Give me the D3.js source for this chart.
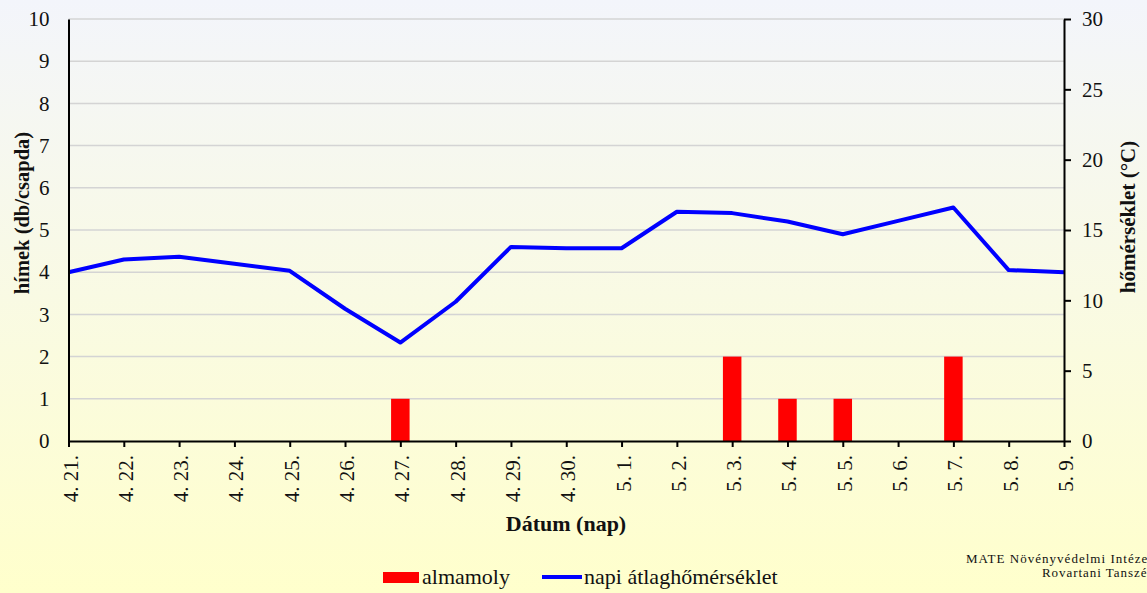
<!DOCTYPE html>
<html>
<head>
<meta charset="utf-8">
<script src="https://cdn.jsdelivr.net/npm/d3@7"></script>
<style>
  body { margin: 0; padding: 0; overflow: hidden; }
  svg, svg text { font-family: "Liberation Serif", "Times New Roman", Times, "DejaVu Serif", serif; }
</style>
</head>
<body>
<div id="chart"></div>
<script>
// data
var dates = ["4. 21.", "4. 22.", "4. 23.", "4. 24.", "4. 25.", "4. 26.", "4. 27.", "4. 28.", "4. 29.", "4. 30.",
  "5. 1.", "5. 2.", "5. 3.", "5. 4.", "5. 5.", "5. 6.", "5. 7.", "5. 8.", "5. 9."];
var almamoly = [0, 0, 0, 0, 0, 0, 1, 0, 0, 0, 0, 0, 2, 1, 1, 0, 2, 0, 0];
var temperature = [12.0, 12.9, 13.1, 12.6, 12.1, 9.4, 7.0, 9.9, 13.8, 13.7, 13.7, 16.3, 16.2, 15.6, 14.7, 15.65, 16.6, 12.15, 12.0];
var leftTicks = [0, 1, 2, 3, 4, 5, 6, 7, 8, 9, 10];
var rightTicks = [0, 5, 10, 15, 20, 25, 30];

const svgwidth = 1147;
const svgheight = 593;
const serif = "'Liberation Serif', 'Times New Roman', Times, 'DejaVu Serif', serif";

// plot area edges
var plot = {left: 68.5, right: 1064, top: 19, bottom: 441};

var svg = d3.select("#chart")
  .append("svg")
  .attr("width", svgwidth)
  .attr("height", svgheight)
  .attr("font-family", serif);

// background gradient, bluish white to pale yellow
var grad = svg.append("defs").append("linearGradient")
  .attr("id", "bg")
  .attr("x1", 0).attr("y1", 0).attr("x2", 0).attr("y2", 1);
grad.append("stop").attr("offset", "0%").attr("stop-color", "#f3f5fb");
grad.append("stop").attr("offset", "100%").attr("stop-color", "#ffffcc");

svg.append("rect")
  .attr("width", svgwidth)
  .attr("height", svgheight)
  .attr("fill", "url(#bg)");

// scales
var x = d3.scalePoint()
  .domain(dates)
  .range([plot.left, plot.right]);

var yLeft = d3.scaleLinear()
  .domain([0, 10])
  .range([plot.bottom, plot.top]);

var yRight = d3.scaleLinear()
  .domain([0, 30])
  .range([plot.bottom, plot.top]);

// gridlines
svg.append("g")
  .selectAll("line")
  .data(leftTicks.slice(1))
  .enter()
  .append("line")
  .attr("x1", plot.left)
  .attr("x2", plot.right)
  .attr("y1", d => yLeft(d))
  .attr("y2", d => yLeft(d))
  .attr("stroke", "#d4d4d4")
  .attr("stroke-width", 1.5);

// bars
var barWidth = 18.5;
svg.append("g")
  .selectAll("rect")
  .data(almamoly.map((v, i) => ({date: dates[i], value: v})).filter(d => d.value > 0))
  .enter()
  .append("rect")
  .attr("x", d => x(d.date) - barWidth / 2)
  .attr("y", d => yLeft(d.value))
  .attr("width", barWidth)
  .attr("height", d => yLeft(0) - yLeft(d.value))
  .attr("fill", "#ff0000");

// temperature line
var line = d3.line()
  .x((d, i) => x(dates[i]))
  .y(d => yRight(d));

svg.append("path")
  .datum(temperature)
  .attr("d", line)
  .attr("fill", "none")
  .attr("stroke", "#0000ff")
  .attr("stroke-width", 4)
  .attr("stroke-linejoin", "round");

// left axis
var leftAxis = svg.append("g")
  .attr("transform", `translate(${plot.left}, 0)`)
  .call(d3.axisLeft(yLeft).tickValues(leftTicks).tickSize(0).tickPadding(19));
leftAxis.attr("font-family", serif).attr("font-size", 21);
leftAxis.select(".domain").attr("stroke", "#000").attr("stroke-width", 2);
leftAxis.selectAll("text").attr("fill", "#111");

// right axis
var rightAxis = svg.append("g")
  .attr("transform", `translate(${plot.right}, 0)`)
  .call(d3.axisRight(yRight).tickValues(rightTicks).tickSize(7).tickSizeOuter(0).tickPadding(11));
rightAxis.attr("font-family", serif).attr("font-size", 21);
rightAxis.select(".domain").attr("stroke", "#000").attr("stroke-width", 2);
rightAxis.selectAll("line").attr("stroke", "#000").attr("stroke-width", 2);
rightAxis.selectAll("text").attr("fill", "#111");

// bottom axis
var bottomAxis = svg.append("g")
  .attr("transform", `translate(0, ${plot.bottom})`)
  .call(d3.axisBottom(x).tickSize(6).tickSizeOuter(0));
bottomAxis.attr("font-family", serif).attr("font-size", 21);
bottomAxis.select(".domain").attr("stroke", "#000").attr("stroke-width", 2);
bottomAxis.selectAll("line").attr("stroke", "#000").attr("stroke-width", 2);
bottomAxis.selectAll("text")
  .attr("fill", "#111")
  .attr("text-anchor", "end")
  .attr("dy", null)
  .attr("y", null)
  .attr("transform", "translate(8.5, 14) rotate(-90)");

// axis titles
svg.append("text")
  .attr("transform", "translate(29, 213) rotate(-90)")
  .attr("text-anchor", "middle")
  .attr("font-size", 20.5)
  .attr("font-weight", "bold")
  .attr("fill", "#111")
  .text("hímek (db/csapda)");

svg.append("text")
  .attr("transform", "translate(1135, 217) rotate(-90)")
  .attr("text-anchor", "middle")
  .attr("font-size", 21)
  .attr("font-weight", "bold")
  .attr("fill", "#111")
  .text("hőmérséklet (°C)");

svg.append("text")
  .attr("x", 566)
  .attr("y", 531)
  .attr("text-anchor", "middle")
  .attr("font-size", 22)
  .attr("font-weight", "bold")
  .attr("fill", "#111")
  .text("Dátum (nap)");

// legend
var legend = svg.append("g");
legend.append("rect")
  .attr("x", 383).attr("y", 572)
  .attr("width", 36).attr("height", 11)
  .attr("fill", "#ff0000");
legend.append("text")
  .attr("x", 422).attr("y", 584)
  .attr("font-size", 22)
  .attr("fill", "#111")
  .text("almamoly");
legend.append("line")
  .attr("x1", 542).attr("x2", 582)
  .attr("y1", 577).attr("y2", 577)
  .attr("stroke", "#0000ff")
  .attr("stroke-width", 4);
legend.append("text")
  .attr("x", 584).attr("y", 584)
  .attr("font-size", 22)
  .attr("fill", "#111")
  .text("napi átlaghőmérséklet");

// source note, cut at the right edge
svg.append("text")
  .attr("x", 966).attr("y", 563)
  .attr("font-size", 13)
  .attr("textLength", 186)
  .attr("lengthAdjust", "spacing")
  .attr("fill", "#111")
  .text("MATE Növényvédelmi Intézet");
svg.append("text")
  .attr("x", 1042).attr("y", 577)
  .attr("font-size", 13)
  .attr("textLength", 112)
  .attr("lengthAdjust", "spacing")
  .attr("fill", "#111")
  .text("Rovartani Tanszék");
</script>
</body>
</html>
